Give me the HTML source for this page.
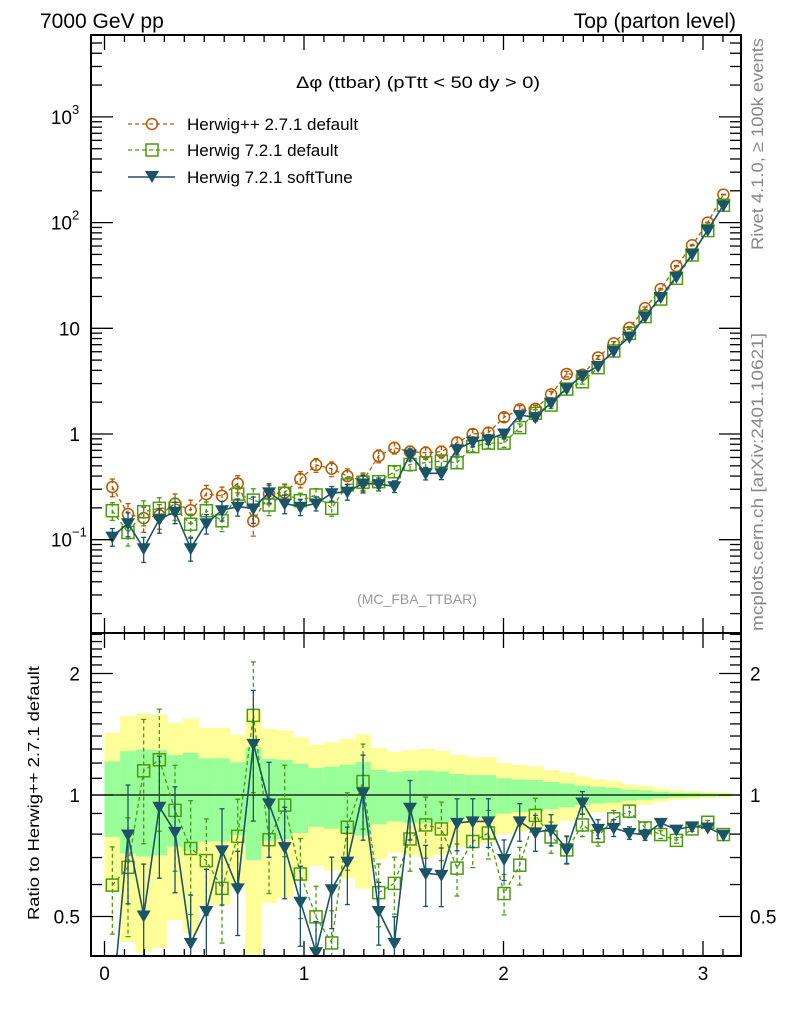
<!DOCTYPE html>
<html><head><meta charset="utf-8"><style>
body{margin:0;background:#fff}
svg{display:block;font-family:"Liberation Sans",sans-serif}
</style></head><body>
<svg id="c" width="786" height="1024" viewBox="0 0 786 1024">
<g id="bands"></g>
<g id="marks"></g>
<g id="axes"></g>
<text x="40" y="28" font-size="21">7000 GeV pp</text>
<text x="736" y="28" font-size="21" text-anchor="end">Top (parton level)</text>
<text x="296" y="88" font-size="17" textLength="244" lengthAdjust="spacingAndGlyphs">Δφ (ttbar) (pTtt &lt; 50 dy &gt; 0)</text>
<text x="417" y="604" font-size="14" fill="#999" text-anchor="middle">(MC_FBA_TTBAR)</text>
<text transform="translate(763,250) rotate(-90)" font-size="17" fill="#888" textLength="212" lengthAdjust="spacingAndGlyphs">Rivet 4.1.0, ≥ 100k events</text>
<text transform="translate(763,631) rotate(-90)" font-size="17" fill="#888" textLength="298" lengthAdjust="spacingAndGlyphs">mcplots.cern.ch [arXiv:2401.10621]</text>
<text transform="translate(39,920) rotate(-90)" font-size="16" textLength="254" lengthAdjust="spacingAndGlyphs">Ratio to Herwig++ 2.7.1 default</text>
<g>
<g>
<line x1="128" y1="124" x2="175" y2="124" stroke="#b35806" stroke-width="1.3" stroke-dasharray="4,3"/>
<circle cx="152" cy="124" r="5.5" fill="none" stroke="#b35806" stroke-width="1.5"/>
<text x="187" y="130" font-size="17">Herwig++ 2.7.1 default</text></g>
<g>
<line x1="128" y1="150" x2="175" y2="150" stroke="#4c9a0f" stroke-width="1.3" stroke-dasharray="4,3"/>
<rect x="146" y="144" width="12" height="12" fill="none" stroke="#4c9a0f" stroke-width="1.5"/>
<text x="187" y="156" font-size="17">Herwig 7.2.1 default</text></g>
<g>
<line x1="128" y1="177" x2="175" y2="177" stroke="#1b5466" stroke-width="1.5"/>
<path d="M145,171 L159,171 L152,183 Z" fill="#1b5466"/>
<text x="187" y="183" font-size="17">Herwig 7.2.1 softTune</text></g>
</g>
</svg>
<script>
const herwigPP=[0.315,0.175,0.16,0.17,0.22,0.19,0.27,0.26,0.34,0.15,0.27,0.28,0.375,0.51,0.47,0.40,0.36,0.62,0.74,0.68,0.665,0.68,0.83,1.0,1.03,1.44,1.71,1.73,2.37,3.7,3.64,5.3,7.2,10.1,15.5,23.5,38.8,61,100,184];
const h7default=[0.188,0.117,0.184,0.198,0.198,0.14,0.188,0.151,0.27,0.237,0.213,0.275,0.234,0.265,0.198,0.33,0.35,0.354,0.44,0.515,0.535,0.555,0.535,0.76,0.82,0.82,1.15,1.57,1.88,2.66,3.12,4.24,6.1,8.95,12.9,18.9,29.7,49.4,84,146];
const h7soft=[0.107,0.143,0.083,0.156,0.184,0.083,0.143,0.19,0.205,0.198,0.28,0.22,0.205,0.22,0.275,0.285,0.34,0.336,0.32,0.64,0.425,0.425,0.716,0.846,0.89,1.01,1.51,1.44,1.98,2.7,3.6,4.4,6.1,8.3,12.9,19.8,30.7,50.5,85,146];
const ratioDefault=[0.598,0.662,1.148,1.223,0.916,0.737,0.688,0.587,0.79,1.575,0.775,0.944,0.637,0.499,0.43,0.832,1.08,0.573,0.604,0.778,0.843,0.824,0.659,0.767,0.805,0.57,0.67,0.89,0.787,0.731,0.843,0.79,0.873,0.912,0.829,0.798,0.772,0.824,0.856,0.798];
const ratioSoft=[0.3,0.798,0.503,0.935,0.81,0.43,0.516,0.729,0.587,1.339,0.953,0.743,0.544,0.408,0.584,0.684,1.014,0.516,0.43,0.93,0.64,0.634,0.853,0.86,0.86,0.694,0.86,0.808,0.821,0.734,0.958,0.824,0.829,0.805,0.797,0.853,0.821,0.836,0.831,0.797];
const relErr=[0.212,0.284,0.296,0.291,0.255,0.273,0.233,0.233,0.205,0.31,0.23,0.222,0.195,0.166,0.175,0.189,0.207,0.154,0.14,0.146,0.15,0.144,0.128,0.12,0.12,0.1,0.093,0.089,0.077,0.068,0.056,0.047,0.042,0.031,0.027,0.019,0.014,0.012,0.009,0.007];
const xTicks=[0,1,2,3];
const mainTicks=[[-1,'10','−1'],[0,'1',''],[1,'10',''],[2,'10','2'],[3,'10','3']];
const ratioTicks=[[2,'2'],[1,'1'],[0.5,'0.5']];

const NS='http://www.w3.org/2000/svg';
const L=91,R=741,T=35,M=633,B=956;
const N=herwigPP.length, W=Math.PI/N;
const X=v=>104.5+199.5*v;
const Y=v=>434-105.7*Math.log10(v);
const RY=v=>795-121.5*Math.log2(v);
function el(p,tag,a){const e=document.createElementNS(NS,tag);for(const k in a)e.setAttribute(k,a[k]);p.appendChild(e);return e;}
const bands=document.getElementById('bands'),marks=document.getElementById('marks'),axes=document.getElementById('axes');
const cl=v=>Math.max(0.3,v);
for(let i=0;i<N;i++){
 const x1=X(i*W),x2=X((i+1)*W),e=relErr[i];
 const y=el(bands,'rect',{x:x1,y:RY(1+2*e),width:x2-x1+0.5,height:Math.min(B,RY(cl(1-2*e)))-RY(1+2*e),fill:'#ffff99'});
 
 
 const g=el(bands,'rect',{x:x1,y:RY(1+e),width:x2-x1+0.5,height:RY(1-e)-RY(1+e),fill:'#99ff99'});
 
 
}
el(bands,'line',{x1:L,x2:R,y1:RY(1),y2:RY(1),stroke:'#000','stroke-width':1.3});
const defs=el(document.getElementById('c'),'defs',{});
const c1=el(defs,'clipPath',{id:'cm'});el(c1,'rect',{x:L,y:T,width:R-L,height:M-T});
const c2=el(defs,'clipPath',{id:'cr'});el(c2,'rect',{x:L,y:M,width:R-L,height:B-M});
function series(vals,errs,yf,clip,color,dash,marker,name,errScale){
 const g=el(marks,'g',{'clip-path':'url(#'+clip+')'});
 
 
 let d='';
 vals.forEach((v,i)=>{d+=(i?'L':'M')+X((i+0.5)*W).toFixed(1)+','+yf(v).toFixed(1);});
 const a={d:d,fill:'none',stroke:color,'stroke-width':dash?1.3:1.6};if(dash)a['stroke-dasharray']='4,3';
 el(g,'path',a);
 vals.forEach((v,i)=>{
  const cx=X((i+0.5)*W),cy=yf(v),e=errs[i]*errScale;
  const yt=yf(v*(1+e)),yb=yf(Math.max(v*(1-e),v*0.05));
  const eb={x1:cx,x2:cx,y1:yt,y2:yb,stroke:color,'stroke-width':1.3};if(dash)eb['stroke-dasharray']='4,3';
  el(g,'line',eb);
  el(g,'line',{x1:cx-2.5,x2:cx+2.5,y1:yt,y2:yt,stroke:color,'stroke-width':1.3});
  el(g,'line',{x1:cx-2.5,x2:cx+2.5,y1:yb,y2:yb,stroke:color,'stroke-width':1.3});
  let m;
  if(marker==='c')m=el(g,'circle',{cx:cx,cy:cy,r:5.5,fill:'none',stroke:color,'stroke-width':1.5});
  else if(marker==='s')m=el(g,'rect',{x:cx-6,y:cy-6,width:12,height:12,fill:'none',stroke:color,'stroke-width':1.5});
  else m=el(g,'path',{d:`M${cx-7},${cy-5}L${cx+7},${cy-5}L${cx},${cy+7}Z`,fill:color});
  
  
 });
}
series(herwigPP,relErr,Y,'cm','#b35806',true,'c','herwigpp-series',0.9);
series(h7default,relErr,Y,'cm','#4c9a0f',true,'s','herwig7-default-series',0.9);
series(h7soft,relErr,Y,'cm','#1b5466',false,'t','herwig7-softtune-series',0.9);
series(ratioDefault,relErr,RY,'cr','#4c9a0f',true,'s','ratio-herwig7-default',1.15);
series(ratioSoft,relErr,RY,'cr','#1b5466',false,'t','ratio-herwig7-softtune',1.15);
el(axes,'rect',{x:L,y:T,width:R-L,height:M-T,fill:'none',stroke:'#000','stroke-width':2});
el(axes,'rect',{x:L,y:M,width:R-L,height:B-M,fill:'none',stroke:'#000','stroke-width':2});
function ln(x1,y1,x2,y2,w){el(axes,'line',{x1,y1,x2,y2,stroke:'#000','stroke-width':w||1.3});}
for(let k=0;k<=31;k++){const v=k/10,x=X(v);if(x>R)break;const maj=k%10===0;const h=maj?15:7;
 ln(x,T,x,T+h);ln(x,M,x,M-h);ln(x,M,x,M+h);ln(x,B,x,B-h);}
xTicks.forEach(v=>{const t=el(axes,'text',{x:X(v),y:980,'font-size':19,'text-anchor':'middle'});t.textContent=v;
 
 });
for(let d=-2;d<=3;d++){for(let m=1;m<10;m++){const v=m*Math.pow(10,d),y=Y(v);if(y<T||y>M)continue;const h=m===1?22:11;ln(L,y,L+h,y);ln(R,y,R-h,y);}}
mainTicks.forEach(t=>{const y=Y(Math.pow(10,t[0]));const tx=el(axes,'text',{x:t[2]?72:80,y:y+7,'font-size':19,'text-anchor':'end'});
 tx.textContent=t[1];
 
 
 if(t[2]){const s=el(axes,'text',{x:72,y:y-3,'font-size':13});s.textContent=t[2];}});
for(let v=0.4;v<=2.6;v=Math.round((v+0.1)*10)/10){const y=RY(v);if(y<M||y>B)continue;const maj=(v===1||v===2||v===0.5);const h=maj?22:11;ln(L,y,L+h,y);ln(R,y,R-h,y);}
ratioTicks.forEach(t=>{const y=RY(t[0]);
 const a=el(axes,'text',{x:80,y:y+7,'font-size':19,'text-anchor':'end'});a.textContent=t[1];
 
 
 const b=el(axes,'text',{x:750,y:y+7,'font-size':19});b.textContent=t[1];
 
 });
</script>
</body></html>
